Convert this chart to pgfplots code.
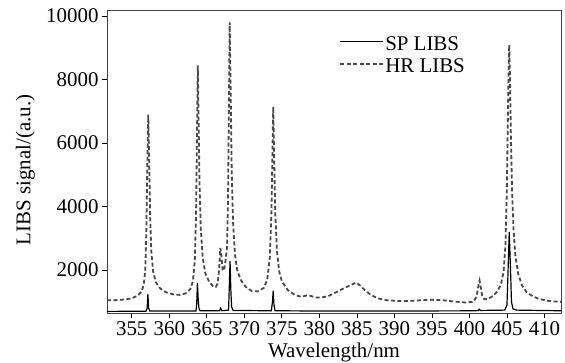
\documentclass[border=0pt]{standalone}
\usepackage{pgfplots}
\pgfplotsset{compat=1.18}
\usepackage{fontspec}
\setmainfont{Liberation Serif}
\definecolor{hrgray}{RGB}{72,72,72}
\begin{document}
\begin{tikzpicture}
\useasboundingbox (-107bp,-49.7bp) rectangle (458bp,313.3bp);
\begin{axis}[
  scale only axis,
  width=454bp, height=302.6bp,
  xmin=351.7, xmax=412.2,
  ymin=640, ymax=10170,
  xtick={355,360,...,410},
  ytick={2000,4000,6000,8000,10000},
  scaled y ticks=false,
  /pgf/number format/1000 sep={},
  /pgf/number format/assume math mode=true,
  tick label style={font=\fontsize{21}{23}\selectfont},
  label style={font=\fontsize{21}{23}\selectfont},
  xlabel={Wavelength/nm},
  ylabel={LIBS signal/(a.u.)},
  xlabel style={at={(axis description cs:0.5,-0.13)}, anchor=center},
  ylabel style={at={(axis description cs:-0.18,0.474)}, anchor=center},
  xtick pos=bottom, ytick pos=left,
  tick align=outside,
  major tick length=5bp,
  axis line style={black!75, line width=0.8pt},
  tick style={black, line width=0.7pt},
  legend style={draw=none, fill=none, at={(0.505,0.925)}, anchor=north west,
    font=\fontsize{21}{23}\selectfont, row sep=1pt,
    nodes={inner sep=1pt, text height=13.5pt, text depth=6pt}},
  legend cell align=left,
  legend image code/.code={\draw[#1] (0bp,5bp) -- (43bp,5bp);},
]
\addplot[black, line width=1.2pt] coordinates {
(351.7,700) (356.9,705) (357.05,800) (357.15,1240) (357.25,800) (357.4,712)
(363.55,710) (363.65,900) (363.75,1600) (363.85,1100) (363.95,800) (364.1,720)
(366.7,720) (366.85,800) (367.0,722) (367.9,740) (368.0,1500) (368.1,2280)
(368.2,1400) (368.3,850) (368.5,730) (373.6,720) (373.75,1000) (373.85,1350)
(373.95,900) (374.1,720) (380,712) (390,712) (400,718) (401.2,725) (401.3,770)
(401.45,730) (404.7,740) (405.0,900) (405.15,2000) (405.3,3200) (405.45,2200)
(405.6,1000) (405.8,780) (406.3,740) (412.2,720)
};
\addlegendentry{SP LIBS}
\addplot[hrgray, line width=1.8pt, dash pattern=on 4pt off 2.5pt] coordinates {
(351.7,1050) (353.0,1055) (354.0,1075) (355.0,1110) (355.8,1200) (356.3,1320)
(356.6,1550) (356.8,2000) (356.95,3300) (357.07,5300) (357.2,6900) (357.33,5400)
(357.45,3700) (357.6,2600) (357.85,1950) (358.2,1620) (358.8,1420) (359.6,1300)
(360.5,1235) (361.4,1220) (362.2,1270) (362.8,1400) (363.15,1650) (363.4,2300)
(363.57,3800) (363.68,6000) (363.8,8450) (363.92,6500) (364.03,4700) (364.2,3300)
(364.45,2400) (364.8,1900) (365.3,1640) (365.8,1500) (366.2,1470) (366.45,1580)
(366.65,2050) (366.8,2700) (366.95,2450) (367.1,2020) (367.3,1980) (367.5,2300)
(367.7,2750) (367.83,4300) (367.94,7000) (368.05,9800) (368.17,7800) (368.32,5100)
(368.5,3500) (368.75,2500) (369.05,2000) (369.5,1700) (370.2,1470) (371.0,1340)
(371.8,1330) (372.6,1440) (373.05,1700) (373.4,2400) (373.62,3900) (373.74,5600)
(373.85,7150) (373.97,5600) (374.12,3800) (374.35,2600) (374.65,1950) (375.0,1650)
(375.8,1370) (376.8,1210) (377.6,1160) (378.3,1200) (378.8,1190) (379.5,1140)
(380.3,1140) (381.2,1180) (382.2,1300) (383.2,1420) (384.2,1530) (384.9,1610)
(385.4,1520) (386.0,1380) (386.8,1230) (387.8,1110) (389.0,1050) (390.5,1030)
(392.0,1030) (393.5,1050) (395.0,1065) (396.5,1050) (398.0,1010) (399.5,980)
(400.5,1000) (400.95,1160) (401.2,1520) (401.35,1670) (401.5,1470) (401.7,1190)
(402.0,1080) (402.5,1100) (403.1,1180) (403.7,1320) (404.2,1550) (404.55,1950)
(404.8,2800) (404.97,4400) (405.1,6400) (405.2,8100) (405.3,9100) (405.4,8100)
(405.52,6300) (405.67,4600) (405.87,3300) (406.12,2450) (406.5,1880) (407.0,1520)
(407.6,1310) (408.4,1180) (409.3,1090) (410.5,1030) (411.5,1010) (412.2,1000)
};
\addlegendentry{HR LIBS}
\end{axis}
\end{tikzpicture}
\end{document}
